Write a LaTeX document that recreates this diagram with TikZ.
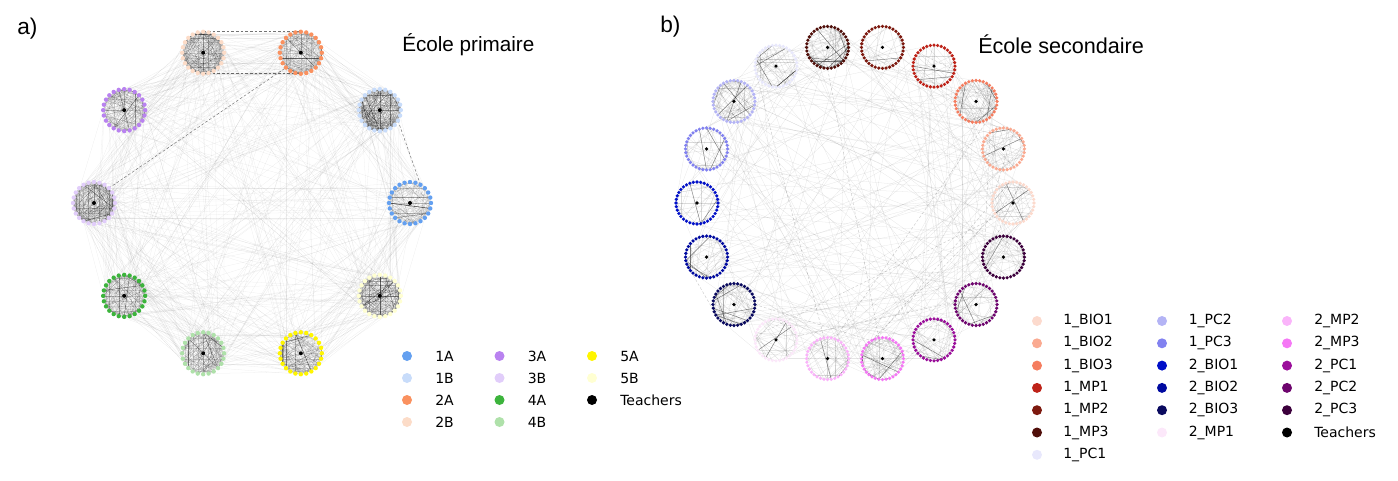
\documentclass[tikz,border=0pt]{standalone}
\usepackage{fontspec}
\setmainfont{DejaVu Sans}
\newfontfamily\titlefont{Liberation Sans}

% class colours, school a
\definecolor{ca1}{RGB}{100,160,240}
\definecolor{ca2}{RGB}{200,220,250}
\definecolor{ca3}{RGB}{250,145,95}
\definecolor{ca4}{RGB}{252,220,200}
\definecolor{ca5}{RGB}{185,130,240}
\definecolor{ca6}{RGB}{225,205,250}
\definecolor{ca7}{RGB}{60,180,60}
\definecolor{ca8}{RGB}{175,225,170}
\definecolor{ca9}{RGB}{255,245,0}
\definecolor{ca10}{RGB}{255,255,210}
% class colours, school b
\definecolor{cb1}{RGB}{252,218,205}
\definecolor{cb2}{RGB}{250,170,145}
\definecolor{cb3}{RGB}{245,125,95}
\definecolor{cb4}{RGB}{190,35,25}
\definecolor{cb5}{RGB}{125,25,15}
\definecolor{cb6}{RGB}{80,15,10}
\definecolor{cb7}{RGB}{232,232,252}
\definecolor{cb8}{RGB}{180,180,245}
\definecolor{cb9}{RGB}{130,130,240}
\definecolor{cb10}{RGB}{0,15,200}
\definecolor{cb11}{RGB}{0,10,160}
\definecolor{cb12}{RGB}{10,10,95}
\definecolor{cb13}{RGB}{252,232,250}
\definecolor{cb14}{RGB}{250,180,250}
\definecolor{cb15}{RGB}{245,120,245}
\definecolor{cb16}{RGB}{155,15,155}
\definecolor{cb17}{RGB}{110,5,110}
\definecolor{cb18}{RGB}{60,0,60}

\tikzset{
  link/.style={draw=black, line width=0.2pt, opacity=0.07},
  bond/.style={draw=black, line width=0.35pt, opacity=0.55, dash pattern={on 2pt off 1.5pt}},
  tie/.style={draw=black, line width=0.2pt, opacity=0.14},
  strongtie/.style={draw=black, line width=0.35pt, opacity=0.5},
  legdot/.style={circle, inner sep=0pt, minimum size=7.5pt, fill=#1},
  legtext/.style={anchor=west, inner sep=0pt, font=\fontsize{10.5}{12}\selectfont},
  paneltitle/.style={anchor=west, inner sep=0pt, font=\titlefont\fontsize{#1}{#1}\selectfont},
}

\begin{document}
\begin{tikzpicture}[x=0.75pt,y=0.75pt,yscale=-1,xscale=1]
\useasboundingbox (0,0) rectangle (1398,481);
\pgfmathsetseed{11}

%% ---------- a) Ecole primaire ----------
% ring coordinates of the 10 classes
\foreach \i in {1,...,10} {
  \pgfmathsetmacro{\cx}{252+158*cos(36*(\i-1))}
  \pgfmathsetmacro{\cy}{203-158*sin(36*(\i-1))}
  \coordinate (a\i) at (\cx,\cy);
  \foreach \k in {1,...,24}
    \coordinate (a\i-\k) at ({\cx+21*cos(15*\k)},{\cy+21*sin(15*\k)});
}
% contacts between classes
\foreach \e in {1,...,560} {
  \pgfmathrandominteger{\i}{1}{10}
  \pgfmathrandominteger{\d}{1}{15}
  \pgfmathtruncatemacro{\d}{\d>9 ? (\d>12 ? 9 : 1) : \d}
  \pgfmathtruncatemacro{\j}{mod(\i-1+\d,10)+1}
  \pgfmathrandominteger{\p}{1}{24}
  \pgfmathrandominteger{\q}{1}{24}
  \draw[link] (a\i-\p) -- (a\j-\q);
}
\draw[bond] (a4-18) -- (a3-18);
\draw[bond] (a4-6) -- (a3-6);
\draw[bond] (a6-21) -- (a3-9);
\draw[bond] (a2-2) -- (a1-20);
% contacts inside each class
\foreach \i/\m in {1/110,2/330,3/170,4/270,5/170,6/270,7/170,8/170,9/170,10/230} {
  \foreach \c in {1,...,\m} {
    \pgfmathrandominteger{\p}{1}{24}
    \pgfmathrandominteger{\q}{1}{24}
    \draw[tie] (a\i-\p) -- (a\i-\q);
  }
  \foreach \c in {1,...,8} {
    \pgfmathrandominteger{\p}{1}{24}
    \draw[tie] (a\i) -- (a\i-\p);
  }
  \foreach \c in {1,...,3} {
    \pgfmathrandominteger{\p}{1}{24}
    \pgfmathrandominteger{\q}{1}{24}
    \draw[strongtie] (a\i-\p) -- (a\i-\q);
  }
}
% pupils and teacher
\foreach \i in {1,...,10} {
  \foreach \k in {1,...,24}
    \fill[ca\i] (a\i-\k) circle (2.2);
  \fill[black] (a\i) circle (2);
}

%% ---------- b) Ecole secondaire ----------
\foreach \i in {1,...,18} {
  \pgfmathsetmacro{\cx}{855+158*cos(20*(\i-1))}
  \pgfmathsetmacro{\cy}{203-158*sin(20*(\i-1))}
  \coordinate (b\i) at (\cx,\cy);
  \foreach \k in {1,...,36}
    \coordinate (b\i-\k) at ({\cx+21*cos(10*\k)},{\cy+21*sin(10*\k)});
}
\foreach \e in {1,...,260} {
  \pgfmathrandominteger{\i}{1}{18}
  \pgfmathrandominteger{\j}{1}{18}
  \pgfmathrandominteger{\p}{1}{36}
  \pgfmathrandominteger{\q}{1}{36}
  \draw[link, opacity=0.1] (b\i-\p) -- (b\j-\q);
}
\foreach \e in {1,...,14} {
  \pgfmathrandominteger{\i}{1}{18}
  \pgfmathrandominteger{\j}{1}{18}
  \pgfmathrandominteger{\p}{1}{36}
  \pgfmathrandominteger{\q}{1}{36}
  \draw[bond, opacity=0.2] (b\i-\p) -- (b\j-\q);
}
\foreach \i/\m/\s in {1/30/2,2/40/3,3/70/6,4/25/2,5/25/1,6/70/10,7/40/5,8/50/5,9/30/3,
                      10/30/3,11/35/5,12/70/9,13/30/3,14/35/3,15/60/8,16/40/5,17/35/4,18/30/3} {
  \foreach \c in {1,...,\m} {
    \pgfmathrandominteger{\p}{1}{36}
    \pgfmathrandominteger{\q}{1}{36}
    \draw[tie] (b\i-\p) -- (b\i-\q);
  }
  \foreach \c in {1,...,\s} {
    \pgfmathrandominteger{\p}{1}{36}
    \pgfmathrandominteger{\q}{1}{36}
    \draw[strongtie] (b\i-\p) -- (b\i-\q);
  }
}
\foreach \i in {1,...,18} {
  \foreach \k in {1,...,36}
    \fill[cb\i] (b\i-\k) circle (1.8);
  \fill[black] (b\i) circle (1.8);
}

%% ---------- titles ----------
\node[paneltitle=17] (pa) at (17,29) {a)};
\node[paneltitle=17] (pb) at (660,27) {b)};
\node[paneltitle=15.5] (ta) at (402,45) {École primaire};
\node[paneltitle=16.2] (tb) at (978,44) {École secondaire};

%% ---------- legends ----------
\foreach \lab/\col [count=\i from 0] in {1A/ca1,1B/ca2,2A/ca3,2B/ca4,3A/ca5,3B/ca6,4A/ca7,4B/ca8,5A/ca9,5B/ca10,Teachers/black} {
  \pgfmathtruncatemacro{\cl}{\i/4}
  \pgfmathtruncatemacro{\rw}{mod(\i,4)}
  \node[legdot=\col] (la\i) at (407+92.5*\cl,356+22*\rw) {};
  \node[legtext] (lt\i) at (435+92.5*\cl,356+22*\rw) {\lab};
}
\foreach \lab/\col/\cl/\rw [count=\i] in {1\_BIO1/cb1/0/0,1\_BIO2/cb2/0/1,1\_BIO3/cb3/0/2,1\_MP1/cb4/0/3,
    1\_MP2/cb5/0/4,1\_MP3/cb6/0/5,1\_PC1/cb7/0/6,
    1\_PC2/cb8/1/0,1\_PC3/cb9/1/1,2\_BIO1/cb10/1/2,2\_BIO2/cb11/1/3,2\_BIO3/cb12/1/4,2\_MP1/cb13/1/5,
    2\_MP2/cb14/2/0,2\_MP3/cb15/2/1,2\_PC1/cb16/2/2,2\_PC2/cb17/2/3,2\_PC3/cb18/2/4,Teachers/black/2/5} {
  \node[legdot=\col] (lb\i) at (1037+125*\cl,321+22.3*\rw) {};
  \node[legtext] (ls\i) at (1063+125.5*\cl,321+22.3*\rw) {\lab};
}
\end{tikzpicture}
\end{document}
